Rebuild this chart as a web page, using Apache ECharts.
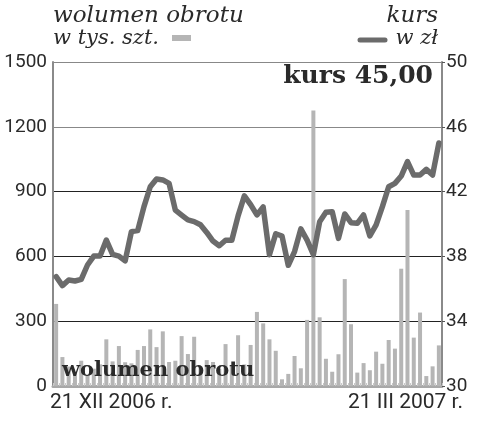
<!DOCTYPE html>
<html><head><meta charset="utf-8">
<script src="https://cdn.jsdelivr.net/npm/echarts@6/dist/echarts.min.js"></script>
<style>html,body{margin:0;padding:0;background:#fff}#c{width:500px;height:430px}</style>
</head><body><div id="c"></div>
<script>
// volume (thousand shares) per session
const volume = [380,134,90,65,117,50,80,100,216,114,185,110,105,167,185,262,180,253,111,117,
  231,148,228,90,120,111,80,194,95,235,100,190,343,290,216,163,31,56,139,82,
  306,1275,318,126,66,147,495,286,62,106,73,159,103,213,173,543,815,224,340,46,91,188];
// share price (zł)
const price = [36.75,36.2,36.54,36.48,36.58,37.47,38.02,38.02,39.01,38.13,38.02,37.72,39.53,39.59,41.07,42.3,42.78,42.72,42.51,40.86,
  40.55,40.25,40.15,39.95,39.48,38.95,38.66,39.0,39.0,40.5,41.74,41.2,40.56,41.05,38.1,39.4,39.26,37.45,38.3,39.7,
  39.0,38.1,40.14,40.72,40.76,39.11,40.62,40.08,40.04,40.56,39.26,39.94,41.07,42.3,42.51,42.96,43.85,43.02,43.02,43.37,43.02,45.0];
const sessions = volume.map((_, i) => String(i + 1));
const dateLabels = ['21 XII 2006 r.', '21 III 2007 r.'];
const volTicks = [0, 300, 600, 900, 1200, 1500];
const priceTicks = [30, 34, 38, 42, 46, 50];
const lastPrice = '45,00';

const axisFont = 'Roboto';
const chart = echarts.init(document.getElementById('c'));
chart.setOption({
  animation: false,
  grid: { left: 53, right: 58, top: 62, bottom: 44 },
  xAxis: {
    type: 'category', data: sessions, boundaryGap: true,
    axisLine: { show: true, lineStyle: { color: '#a8a8a8', width: 3 } },
    axisTick: { show: true, interval: 0, length: 3, inside: true, lineStyle: { color: '#c8c8c8' } },
    axisLabel: { show: false }
  },
  yAxis: [{
    type: 'value', min: volTicks[0], max: volTicks[volTicks.length - 1], interval: 300,
    axisLine: { show: true, lineStyle: { color: '#8a8a8a', width: 2 } },
    axisTick: { show: false },
    axisLabel: { color: '#2a2a2a', fontFamily: axisFont, fontSize: 19, margin: 6, formatter: v => String(v) },
    splitLine: { show: true, lineStyle: { color: ['#888', '#222', '#222', '#222', '#888', '#888'], width: 1.2 } }
  }, {
    type: 'value', min: priceTicks[0], max: priceTicks[priceTicks.length - 1], interval: 4,
    position: 'right',
    axisLine: { show: true, lineStyle: { color: '#8a8a8a', width: 2 } },
    axisTick: { show: true, length: 3, lineStyle: { color: '#555' } },
    axisLabel: { color: '#2a2a2a', fontFamily: axisFont, fontSize: 19, margin: 4 },
    splitLine: { show: false }
  }],
  series: [{
    type: 'bar', data: volume, yAxisIndex: 0, barWidth: 4,
    itemStyle: { color: '#b5b5b5' }, z: 2
  }, {
    type: 'line', data: price, yAxisIndex: 1, symbol: 'none',
    lineStyle: { color: '#6b6b6b', width: 5.5, join: 'round', cap: 'round' }, z: 3
  }],
  graphic: [
    { type: 'text', left: 53, top: 5, style: { text: 'wolumen obrotu', font: 'italic 23px "DejaVu Serif"', fill: '#2a2a2a' } },
    { type: 'text', left: 53, top: 28, style: { text: 'w tys. szt.', font: 'italic 21px "DejaVu Serif"', fill: '#2a2a2a' } },
    { type: 'rect', shape: { x: 172, y: 35, width: 19, height: 6 }, style: { fill: '#b5b5b5' } },
    { type: 'text', right: 62, top: 5, style: { text: 'kurs', font: 'italic 23px "DejaVu Serif"', fill: '#2a2a2a' } },
    { type: 'text', right: 62, top: 28, style: { text: 'w zł', font: 'italic 21px "DejaVu Serif"', fill: '#2a2a2a' } },
    { type: 'line', shape: { x1: 360, y1: 40, x2: 385, y2: 40 }, style: { stroke: '#6b6b6b', lineWidth: 5, lineCap: 'round' } },
    { type: 'text', right: 67, top: 64, z: 10, style: { text: 'kurs ' + lastPrice, font: 'bold 25px "DejaVu Serif"', fill: '#2a2a2a' } },
    { type: 'text', left: 62, top: 360, z: 10, style: { text: 'wolumen obrotu', font: 'bold 21px "DejaVu Serif"', fill: '#2a2a2a' } },
    { type: 'text', left: 50, top: 392, style: { text: dateLabels[0], font: '21px ' + axisFont, fill: '#2a2a2a' } },
    { type: 'text', right: 37, top: 392, style: { text: dateLabels[1], font: '21px ' + axisFont, fill: '#2a2a2a' } }
  ]
});
</script></body></html>
